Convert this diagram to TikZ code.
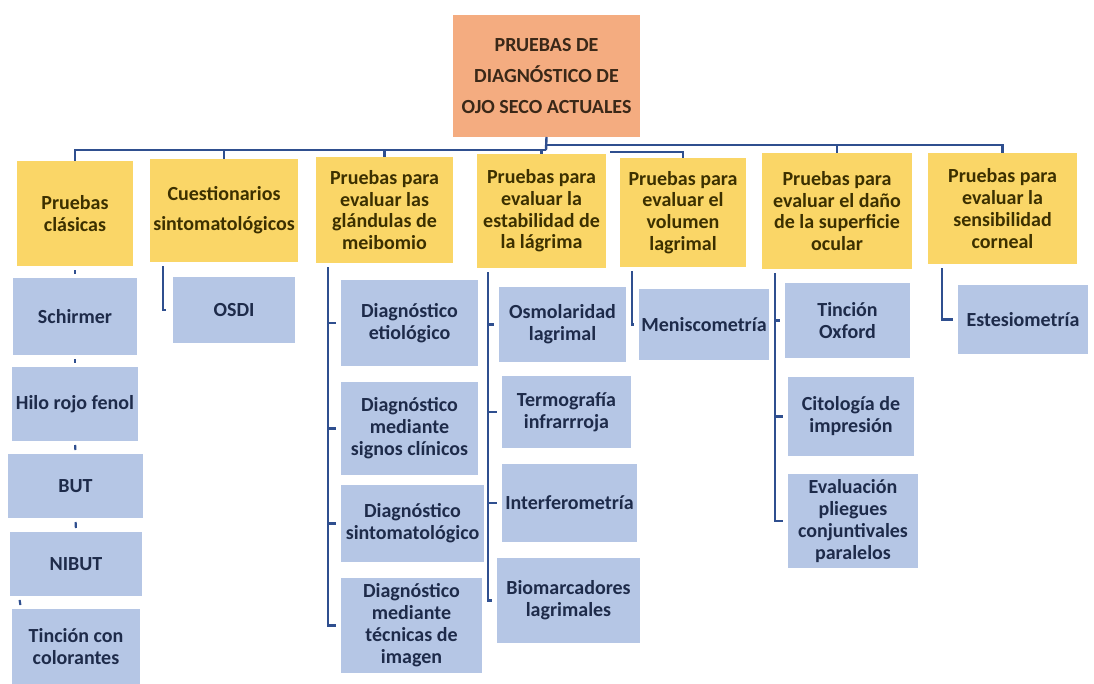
\documentclass[tikz,border=0pt]{standalone}
\usepackage{fontspec}
\setmainfont{Carlito}
\usetikzlibrary{calc}
\definecolor{rootfill}{HTML}{F4AC80}
\definecolor{yelfill}{HTML}{FAD667}
\definecolor{bluefill}{HTML}{B5C6E5}
\definecolor{yeltext}{HTML}{3C3000}
\definecolor{bluetext}{HTML}{1E2B4A}
\definecolor{roottext}{HTML}{3A2818}
\definecolor{linec}{HTML}{2F4F8F}
\newcommand{\mybx}[7]{%
  \pgfmathsetmacro{\mycx}{(#3+#5)/2}%
  \pgfmathsetmacro{\mycy}{(#4+#6)/2}%
  \pgfmathsetmacro{\mywd}{(#5-#3)*0.75}%
  \pgfmathsetmacro{\myht}{(#6-#4)*0.75}%
  \node[#2, minimum width=\mywd pt, minimum height=\myht pt] (#1) at (\mycx,\mycy) {#7};}
\begin{document}
\begin{tikzpicture}[x=0.75pt,y=-0.75pt,
  basebox/.style={inner sep=0pt, outer sep=0pt, draw=none, align=center},
  rootbox/.style={basebox, fill=rootfill, text=roottext, font=\fontsize{15}{23.2}\selectfont\bfseries},
  ybox/.style={basebox, fill=yelfill, text=yeltext, font=\fontsize{15}{16.3}\selectfont\bfseries},
  ybox2/.style={basebox, fill=yelfill, text=yeltext, font=\fontsize{15}{22.5}\selectfont\bfseries},
  bbox/.style={basebox, fill=bluefill, text=bluetext, font=\fontsize{15}{16.5}\selectfont\bfseries},
  conn/.style={draw=linec, line width=1.8pt},
  sub/.style={draw=linec, line width=2pt, shorten >=3.5pt},
  tick/.style={draw=linec, line width=1.6pt, shorten <=3pt, shorten >=3pt}]
\useasboundingbox[fill=white] (0,0) rectangle (1094,684);
% root
\mybx{root}{rootbox}{453}{15}{640}{137}{PRUEBAS DE\\DIAGNÓSTICO DE\\OJO SECO ACTUALES}
% level 1
\mybx{c1}{ybox}{17}{161}{133}{266}{Pruebas\\clásicas}
\mybx{c2}{ybox2}{150}{159}{298}{262}{Cuestionarios\\sintomatológicos}
\mybx{c3}{ybox}{316}{157}{453}{263}{Pruebas para\\evaluar las\\glándulas de\\meibomio}
\mybx{c4}{ybox}{477}{154}{606}{268}{Pruebas para\\evaluar la\\estabilidad de\\la lágrima}
\mybx{c5}{ybox}{620}{158}{746}{267}{Pruebas para\\evaluar el\\volumen\\lagrimal}
\mybx{c6}{ybox}{762}{153}{912}{269}{Pruebas para\\evaluar el daño\\de la superficie\\ocular}
\mybx{c7}{ybox}{928}{153}{1077}{264}{Pruebas para\\evaluar la\\sensibilidad\\corneal}
% level 2, column 1
\mybx{a1}{bbox}{13}{278}{137}{355}{Schirmer}
\mybx{a2}{bbox}{12}{367}{138}{441}{Hilo rojo fenol}
\mybx{a3}{bbox}{8}{454}{143}{518}{BUT}
\mybx{a4}{bbox}{10}{532}{142}{596}{NIBUT}
\mybx{a5}{bbox}{12}{609}{140}{684}{Tinción con\\colorantes}
% column 2
\mybx{b1}{bbox}{173}{277}{295}{343}{OSDI}
% column 3
\mybx{d1}{bbox}{341}{280}{478}{366}{Diagnóstico\\etiológico}
\mybx{d2}{bbox}{341}{382}{478}{475}{Diagnóstico\\mediante\\signos clínicos}
\mybx{d3}{bbox}{341}{485}{484}{562}{Diagnóstico\\sintomatológico}
\mybx{d4}{bbox}{341}{578}{482}{673}{Diagnóstico\\mediante\\técnicas de\\imagen}
% column 4
\mybx{e1}{bbox}{499}{287}{626}{362}{Osmolaridad\\lagrimal}
\mybx{e2}{bbox}{502}{376}{631}{448}{Termografía\\infrarrroja}
\mybx{e3}{bbox}{502}{464}{637}{542}{Interferometría}
\mybx{e4}{bbox}{497}{558}{640}{643}{Biomarcadores\\lagrimales}
% column 5
\mybx{f1}{bbox}{639}{289}{769}{360}{Meniscometría}
% column 6
\mybx{g1}{bbox}{785}{283}{910}{358}{Tinción\\Oxford}
\mybx{g2}{bbox}{788}{377}{914}{456}{Citología de\\impresión}
\mybx{g3}{bbox}{788}{474}{918}{568}{Evaluación\\pliegues\\conjuntivales\\paralelos}
% column 7
\mybx{h1}{bbox}{958}{285}{1088}{354}{Estesiometría}
% bus
\coordinate (busL) at (546,150);
\coordinate (busR) at (546,145);
\coordinate (v5) at (610,152);
\draw[conn] (root.south) -- (busL) -- (busR);
\foreach \n in {c1,c2,c3,c4} \draw[conn] (busL) -| (\n.north);
\foreach \n in {c6,c7} \draw[conn] (busR) -| (\n.north);
\draw[conn] (v5) -| (c5.north);
% column 1 chain ticks
\draw[tick] (c1.south) -- (a1.north);
\draw[tick] (a1.south) -- (a2.north);
\draw[tick] (a2.south) -- (a3.north);
\draw[tick] (a3.south) -- (a4.north);
\draw[tick] ($(a4.south west)+(9,0)$) -- ($(a5.north west)+(9,0)$);
% column 2
\draw[sub, shorten >=5pt, shorten <=3pt] ($(c2.south west)+(13,0)$) |- (b1.west);
% column 3
\foreach \n in {d1,d2,d3,d4} \draw[sub, shorten <=3pt] ($(c3.south west)+(12,0)$) |- (\n.west);
% column 4
\foreach \n in {e1,e2,e3,e4} \draw[sub, shorten <=3pt] ($(c4.south west)+(11,0)$) |- (\n.west);
% column 5
\draw[sub, shorten <=3pt] ($(c5.south west)+(12,0)$) |- (f1.west);
% column 6
\foreach \n in {g1,g2,g3} \draw[sub, shorten <=3pt] ($(c6.south west)+(13,0)$) |- (\n.west);
% column 7
\draw[sub, shorten <=3pt] ($(c7.south west)+(14,0)$) |- (h1.west);
\end{tikzpicture}
\end{document}
